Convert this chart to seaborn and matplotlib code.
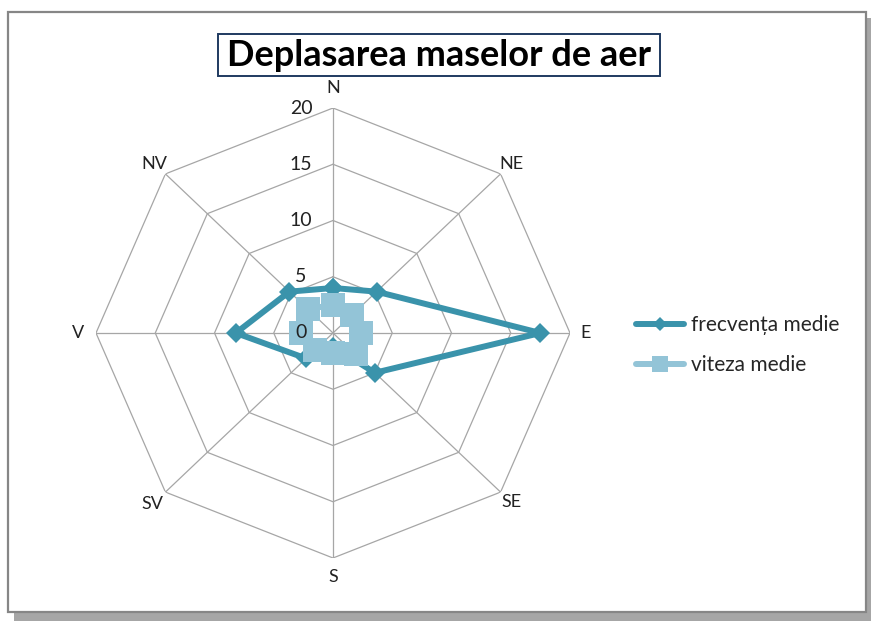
import numpy as np
import pandas as pd
import matplotlib
matplotlib.use("Agg")
import matplotlib.pyplot as plt
from matplotlib.patches import Rectangle
import seaborn as sns

# ---- data ----
directions = ["N", "NE", "E", "SE", "S", "SV", "V", "NV"]
frecventa = [4.0, 5.2, 17.5, 5.0, 1.2, 3.2, 8.2, 5.2]
viteza = [2.5, 2.3, 2.4, 2.7, 1.8, 2.1, 2.7, 3.0]
rticks = [0, 5, 10, 15, 20]
series_names = ["frecvența medie", "viteza medie"]

sns.set_theme(style="white")
plt.rcParams["font.family"] = ["Lato", "DejaVu Sans"]

W, H = 871, 621
fig = plt.figure(figsize=(W / 100, H / 100), dpi=100)

# chart frame with shadow
fig.patches.append(Rectangle((14 / W, 0), (W - 14) / W, (H - 18) / H,
                             transform=fig.transFigure, facecolor="#a6a6a6",
                             edgecolor="none", zorder=0))
fig.patches.append(Rectangle((8 / W, 1 - 612 / H), 858 / W, 600 / H,
                             transform=fig.transFigure, facecolor="white",
                             edgecolor="#868686", linewidth=1.6, zorder=0.5))

# title box
fig.patches.append(Rectangle((218 / W, 1 - 76 / H), 442 / W, 42 / H,
                             transform=fig.transFigure, facecolor="white",
                             edgecolor="#1f3a60", linewidth=1.4, zorder=0.8))
fig.text(439 / W, 1 - 56 / H, "Deplasarea maselor de aer", ha="center",
         va="center", fontsize=26, fontweight="bold", color="black", zorder=0.9)

# polar axes (stretched like the original)
cx, cy = 333, 333
rx, ry = 237, 225
ax = fig.add_axes([(cx - rx) / W, 1 - (cy + ry) / H, 2 * rx / W, 2 * ry / H],
                  projection="polar")
ax.set_zorder(1)
ax.set_aspect("auto")
ax.set_theta_zero_location("N")
ax.set_theta_direction(-1)
ax.patch.set_alpha(0)

n = len(directions)
angles = np.arange(n) * 2 * np.pi / n
closed_angles = np.append(angles, 2 * np.pi)

ax.set_ylim(0, 20)
ax.set_xticks(angles)
ax.set_xticklabels([])
ax.set_yticks(rticks)
ax.set_yticklabels([])
ax.spines["polar"].set_visible(False)
ax.yaxis.grid(False)
ax.xaxis.grid(True, color="#a6a6a6", linewidth=0.9)

# octagonal rings
for r in rticks[1:]:
    ax.plot(closed_angles, [r] * (n + 1), color="#a6a6a6", linewidth=0.9, zorder=1)

# radial labels (drawn above the series, as in the original)
for r in rticks:
    ax.annotate(str(r), xy=(0, r), xytext=(-23, 0), textcoords="offset points",
                ha="center", va="center", fontsize=14, color="#222222", zorder=7)

# direction labels
label_r = [21.8, 21.3, 21.3, 21.3, 21.7, 21.5, 21.5, 21.3]
for a, d, lr in zip(angles, directions, label_r):
    ax.text(a, lr, d, ha="center", va="center", fontsize=13, color="#222222",
            clip_on=False, zorder=7)

df1 = pd.DataFrame({"theta": closed_angles, "r": frecventa + frecventa[:1]})
df2 = pd.DataFrame({"theta": closed_angles, "r": viteza + viteza[:1]})

sns.lineplot(data=df1, x="theta", y="r", ax=ax, sort=False, color="#3a93ab",
             linewidth=4.3, marker="D", markersize=10, markeredgewidth=0,
             label=series_names[0], zorder=4)
sns.lineplot(data=df2, x="theta", y="r", ax=ax, sort=False, color="#93c4d7",
             linewidth=4.3, marker="s", markersize=17, markeredgewidth=0,
             label=series_names[1], zorder=5)
ax.set_xlabel("")
ax.set_ylabel("")
ax.set_ylim(0, 20)

handles, labels = ax.get_legend_handles_labels()
ax.get_legend().remove()
leg = fig.legend(handles, labels, loc="center left",
                 bbox_to_anchor=(626 / W, 1 - 345 / H), frameon=False,
                 fontsize=15, handlelength=2.3, handletextpad=0.3,
                 labelspacing=0.95, borderpad=0)
leg.set_zorder(6)
lh = leg.legend_handles
lh[0].set_markersize(7)
lh[1].set_markersize(11)

fig.savefig("out.png", dpi=100)
